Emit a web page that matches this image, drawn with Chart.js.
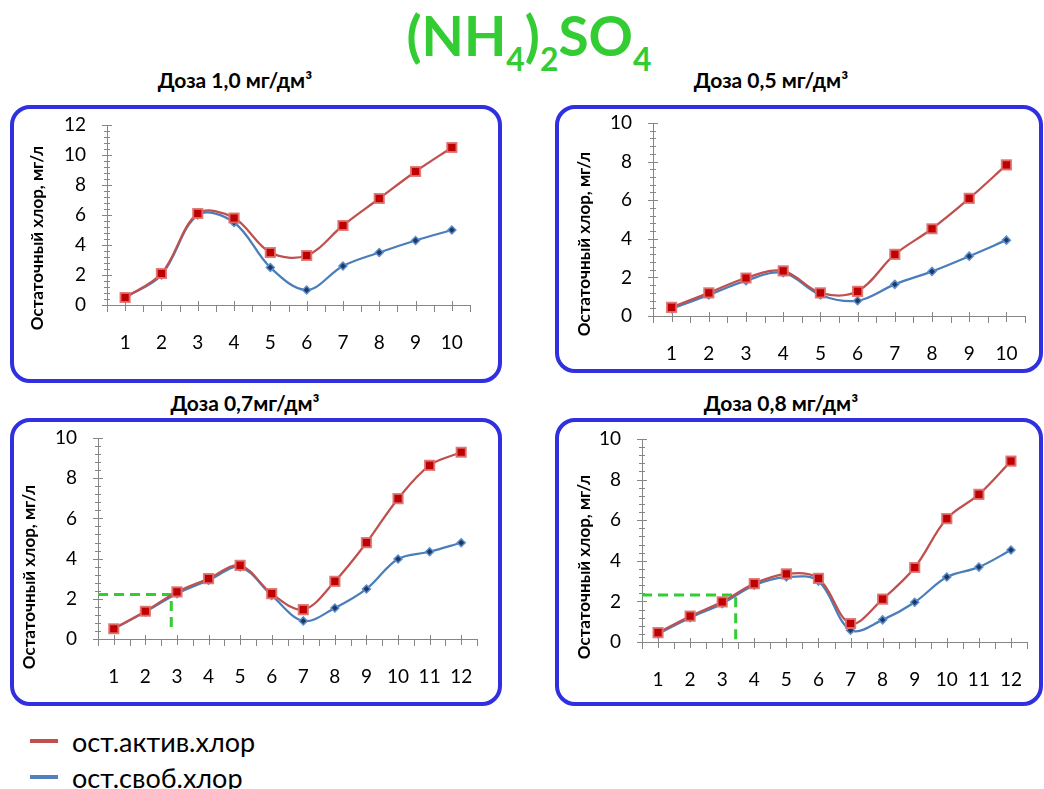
<!DOCTYPE html>
<html>
<head>
<meta charset="utf-8">
<script src="https://cdn.jsdelivr.net/npm/chart.js@4.4.1/dist/chart.umd.min.js"></script>
<style>
    body { margin: 0; width: 1044px; height: 789px; background: #fff; position: relative; overflow: hidden;
           font-family: Lato, 'Noto Sans', sans-serif; color: #000; }
    .box { position: absolute; border: 4px solid #3030e0; border-radius: 20px; box-sizing: border-box; background: #fff; }
    canvas.plot { position: absolute; }
    .sub-title { position: absolute; width: 300px; text-align: center; font-weight: bold; font-size: 21px; line-height: 24px; }
    #main-title { position: absolute; left: 0; top: 8px; width: 1058px; text-align: center; color: #33cc33;
                  font-weight: bold; font-size: 55px; line-height: 1; }
    #main-title sub { font-size: 0.58em; vertical-align: -15px; line-height: 0; }
    .legend-row { position: absolute; left: 30px; height: 30px; display: flex; align-items: center; font-size: 27px; }
    .legend-row i { display: inline-block; width: 28px; height: 4px; margin-right: 14px; }
</style>
</head>
<body>
<div id="main-title">(NH<sub>4</sub>)<sub>2</sub>SO<sub>4</sub></div>
<div class="legend-row" style="top:726px"><i style="background:#c0504d"></i>ост.актив.хлор</div>
<div class="legend-row" style="top:762px"><i style="background:#4f81bd"></i>ост.своб.хлор</div>

<script>
/* --- DATA --- */
const categories10 = ['1', '2', '3', '4', '5', '6', '7', '8', '9', '10'];
const categories12 = ['1', '2', '3', '4', '5', '6', '7', '8', '9', '10', '11', '12'];

const active10 = [0.5, 2.1, 6.1, 5.8, 3.5, 3.3, 5.3, 7.1, 8.9, 10.5];
const free10 = [0.5, 2.0, 6.0, 5.5, 2.5, 1.0, 2.6, 3.5, 4.3, 5.0];

const active05 = [0.45, 1.2, 1.97, 2.34, 1.2, 1.28, 3.19, 4.52, 6.09, 7.83];
const free05 = [0.38, 1.09, 1.83, 2.24, 1.09, 0.79, 1.64, 2.31, 3.1, 3.93];

const active07 = [0.51, 1.38, 2.34, 3.0, 3.66, 2.26, 1.46, 2.87, 4.79, 6.98, 8.64, 9.29];
const free07 = [0.5, 1.35, 2.25, 2.92, 3.58, 2.17, 0.9, 1.54, 2.49, 3.98, 4.34, 4.79];

const active08 = [0.46, 1.27, 1.98, 2.88, 3.36, 3.13, 0.91, 2.11, 3.67, 6.08, 7.27, 8.91];
const free08 = [0.4, 1.2, 1.89, 2.8, 3.2, 3.0, 0.58, 1.09, 1.96, 3.2, 3.69, 4.53];

// [category position, chlorine level, bottom end] of the green dashed guide
const guide07 = [2.82, 2.22, 0.3];
const guide08 = [3.42, 2.32, 0];

const yStep = 0.4;
const yLabelStep = 2;
const yTitle = 'Остаточный хлор, мг/л';

/* --- LAYOUT --- */
const panels = [
    { title: 'Доза 1,0 мг/дм³', cats: categories10, active: active10, free: free10, yMax: 12, guide: null,
      box: [10, 105, 492, 278], pad: { left: 97, top: 20, right: 32, xh: 78 }, yTitlePos: [28, 133], titlePos: [235, 80] },
    { title: 'Доза 0,5 мг/дм³', cats: categories10, active: active05, free: free05, yMax: 10, guide: null,
      box: [555, 105, 488, 268], pad: { left: 98, top: 18, right: 18, xh: 57 }, yTitlePos: [30, 139], titlePos: [771, 80] },
    { title: 'Доза 0,7мг/дм³', cats: categories12, active: active07, free: free07, yMax: 10, guide: guide07,
      box: [10, 418, 492, 288], pad: { left: 88, top: 20, right: 25, xh: 67 }, yTitlePos: [20, 159], titlePos: [245, 403] },
    { title: 'Доза 0,8 мг/дм³', cats: categories12, active: active08, free: free08, yMax: 10, guide: guide08,
      box: [555, 418, 488, 288], pad: { left: 87, top: 21, right: 16, xh: 64 }, yTitlePos: [30, 149], titlePos: [781, 403] }
];

const isMajor = v => Math.abs(v / yLabelStep - Math.round(v / yLabelStep)) < 1e-6;

// Excel-like tick marks, rotated axis title and the dashed guide
const excelAxes = {
    id: 'excelAxes',
    beforeDatasetsDraw(chart, args, opts) {
        const { ctx, scales: { x, y } } = chart;
        const axisX = y.right;
        const axisY = x.top;
        ctx.save();
        ctx.strokeStyle = '#868686';
        ctx.lineWidth = 1;
        ctx.beginPath();
        y.ticks.forEach(t => {
            const py = Math.round(y.getPixelForValue(t.value)) + 0.5;
            const len = isMajor(t.value) ? 5 : 3;
            ctx.moveTo(axisX - len, py);
            ctx.lineTo(axisX + len, py);
        });
        const n = x.ticks.length;
        for (let i = 0; i < n; i++) {
            const px = Math.round(x.getPixelForValue(i)) + 0.5;
            ctx.moveTo(px, axisY - 4);
            ctx.lineTo(px, axisY + 6);
        }
        for (let i = 0; i <= n; i++) {
            const px = Math.round(x.getPixelForValue(i - 0.5)) + 0.5;
            ctx.moveTo(px, axisY);
            ctx.lineTo(px, axisY + 7);
        }
        ctx.stroke();

        if (opts.guide) {
            const [gx, gy, gEnd] = opts.guide;
            const px = x.getPixelForValue(gx - 1);
            const py = y.getPixelForValue(gy);
            ctx.strokeStyle = '#33cc33';
            ctx.lineWidth = 3;
            ctx.setLineDash([10, 6]);
            ctx.beginPath();
            ctx.moveTo(axisX, py);
            ctx.lineTo(px, py);
            ctx.lineTo(px, y.getPixelForValue(gEnd));
            ctx.stroke();
        }
        ctx.restore();
    },
    afterDraw(chart, args, opts) {
        const ctx = chart.ctx;
        ctx.save();
        ctx.translate(opts.titlePos[0], opts.titlePos[1]);
        ctx.rotate(-Math.PI / 2);
        ctx.font = 'bold 17px Lato, "Noto Sans", sans-serif';
        ctx.fillStyle = '#000';
        ctx.textAlign = 'center';
        ctx.textBaseline = 'middle';
        ctx.fillText(yTitle, 0, 0);
        ctx.restore();
    }
};

panels.forEach(p => {
    const [bx, by, bw, bh] = p.box;

    const box = document.createElement('div');
    box.className = 'box';
    Object.assign(box.style, { left: bx + 'px', top: by + 'px', width: bw + 'px', height: bh + 'px' });
    document.body.appendChild(box);

    const head = document.createElement('div');
    head.className = 'sub-title';
    head.textContent = p.title;
    Object.assign(head.style, { left: (p.titlePos[0] - 150) + 'px', top: (p.titlePos[1] - 12) + 'px' });
    document.body.appendChild(head);

    const canvas = document.createElement('canvas');
    canvas.className = 'plot';
    canvas.width = bw;
    canvas.height = bh;
    Object.assign(canvas.style, { left: bx + 'px', top: by + 'px' });
    document.body.appendChild(canvas);

    new Chart(canvas.getContext('2d'), {
        type: 'line',
        data: {
            labels: p.cats,
            datasets: [{
                label: 'ост.актив.хлор',
                data: p.active,
                borderColor: '#c0504d',
                borderWidth: 2.25,
                pointStyle: 'rect',
                pointRadius: 6.5,
                pointBorderWidth: 2,
                pointBorderColor: 'rgba(222,112,110,0.9)',
                pointBackgroundColor: '#c00000',
                tension: 0.35
            }, {
                label: 'ост.своб.хлор',
                data: p.free,
                borderColor: '#4a7ebb',
                borderWidth: 2.25,
                pointStyle: 'rectRot',
                pointRadius: 4,
                pointBorderWidth: 1.5,
                pointBorderColor: '#5b8fd0',
                pointBackgroundColor: '#1f3864',
                tension: 0.35
            }]
        },
        options: {
            responsive: false,
            animation: false,
            devicePixelRatio: 1,
            layout: { padding: { left: 0, top: p.pad.top, right: p.pad.right, bottom: 0 } },
            plugins: {
                legend: { display: false },
                tooltip: { enabled: false },
                excelAxes: { guide: p.guide, titlePos: p.yTitlePos }
            },
            scales: {
                x: {
                    type: 'category',
                    offset: true,
                    // tick marks are drawn by the plugin; tickLength only spaces the labels
                    grid: { display: false, drawTicks: true, tickLength: 26 },
                    border: { color: '#868686', width: 1 },
                    ticks: { color: '#000', font: { family: 'Lato', size: 19 }, padding: 0, maxRotation: 0, autoSkip: false },
                    afterFit: s => { s.height = p.pad.xh; }
                },
                y: {
                    min: 0,
                    max: p.yMax,
                    grid: { display: false, drawTicks: true, tickLength: 21 },
                    border: { color: '#868686', width: 1 },
                    ticks: {
                        stepSize: yStep,
                        autoSkip: false,
                        color: '#000',
                        padding: 0,
                        font: { family: 'Lato', size: 19 },
                        callback: v => isMajor(v) ? String(Math.round(v)) : ''
                    },
                    afterFit: s => { s.width = p.pad.left; }
                }
            }
        },
        plugins: [excelAxes]
    });
});
</script>
</body>
</html>
